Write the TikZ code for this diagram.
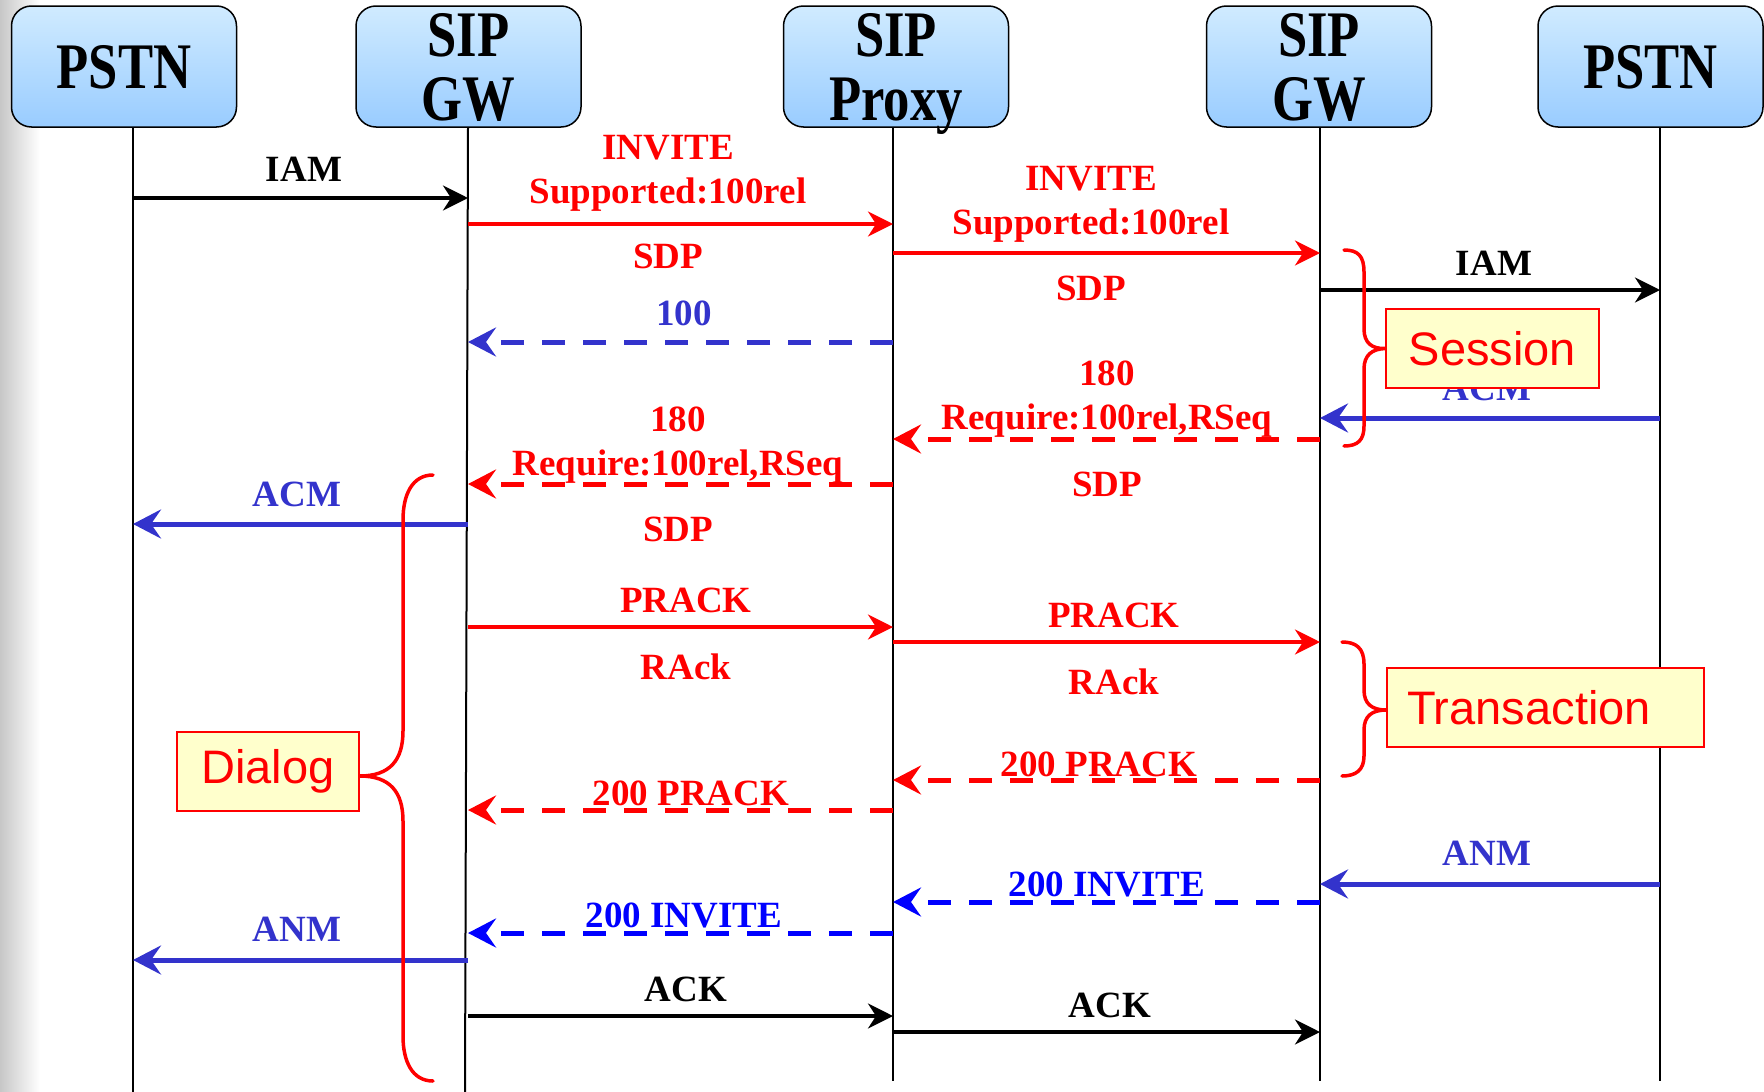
\documentclass[tikz,border=0pt]{standalone}
\usepackage{fontspec}
\setmainfont{Liberation Serif}
\newfontfamily\hdrfont{Liberation Serif}[FakeStretch=0.81]
\newfontfamily\sansf{Liberation Sans}
\usetikzlibrary{arrows.meta}
\definecolor{hdrtop}{RGB}{208,235,255}
\definecolor{hdrbot}{RGB}{153,204,255}
\definecolor{mblue}{RGB}{51,51,204}
\definecolor{pblue}{RGB}{0,0,255}
\definecolor{notefill}{RGB}{255,255,204}
\begin{document}
\begin{tikzpicture}[x=1pt,y=-1pt,
  hdr/.style={draw=black, line width=1.5pt, rounded corners=20pt, top color=hdrtop, bottom color=hdrbot,
    minimum width=225pt, minimum height=121pt, inner sep=0pt, align=center, text depth=0pt,
    font=\hdrfont\bfseries\fontsize{65}{64}\selectfont},
  lifeline/.style={line width=2pt, black},
  sol/.style={line width=3.5pt, -{Stealth[length=25pt,width=25pt,inset=8pt]}},
  thk/.style={line width=5pt, -{Stealth[length=28pt,width=29pt,inset=10pt]}},
  dsh/.style={thk, dash pattern=on 23pt off 18pt},
  lbl/.style={font=\bfseries\fontsize{37}{44}\selectfont, align=center, inner sep=0pt},
  note/.style={draw=red, line width=1.5pt, fill=notefill, text=red,
    font=\sansf\fontsize{47}{50}\selectfont, minimum height=79pt, inner sep=0pt},
  brace/.style={draw=red, line width=3.5pt, line cap=round}
]
\useasboundingbox (0,0) rectangle (1764,1092);
\shade[left color=black!22, right color=white] (0,0) rectangle (40,1092);

% lifelines
\coordinate (L1) at (133,127);  \coordinate (B1) at (133,1092);
\coordinate (L2) at (468,127);  \coordinate (B2) at (465,1092);
\coordinate (L3) at (893,127);  \coordinate (B3) at (893,1081);
\coordinate (L4) at (1320,127); \coordinate (B4) at (1320,1081);
\coordinate (L5) at (1660,127); \coordinate (B5) at (1660,1081);
\foreach \i in {1,...,5} \draw[lifeline] (L\i) -- (B\i);

% headers
\node[hdr] (p1) at (124,66.5) {PSTN};
\node[hdr] (g1) at (468.5,66.5) {SIP\\GW};
\node[hdr] (px) at (896,66.5) {SIP\\Proxy};
\node[hdr] (g2) at (1319,66.5) {SIP\\GW};
\node[hdr] (p2) at (1650.5,66.5) {PSTN};

% messages
\draw[sol,black] (L1 |- 0,198) -- (L2 |- 0,198);
\node[lbl] (t1) at (304,169) {IAM};

\draw[sol,red] (L2 |- 0,224) -- (L3 |- 0,224);
\node[lbl,red] (t2) at (668,173) {INVITE\\Supported:100rel};
\node[lbl,red] (t2b) at (668,256) {SDP};

\draw[sol,red] (L3 |- 0,253) -- (L4 |- 0,253);
\node[lbl,red] (t3) at (1091,204) {INVITE\\Supported:100rel};
\node[lbl,red] (t3b) at (1091,288) {SDP};

\draw[sol,black] (L4 |- 0,290) -- (L5 |- 0,290);
\node[lbl] (t4) at (1494,263) {IAM};

\draw[dsh,mblue] (L3 |- 0,342) -- (L2 |- 0,342);
\node[lbl,mblue] (t5) at (684,313) {100};

\draw[thk,mblue] (L5 |- 0,418) -- (L4 |- 0,418);
\node[lbl,mblue] (t6) at (1487,388) {ACM};

\draw[dsh,red] (L4 |- 0,439) -- (L3 |- 0,439);
\node[lbl,red] (t7) at (1107,399) {180\\Require:100rel,RSeq};
\node[lbl,red] (t7b) at (1107,484) {SDP};

\draw[dsh,red] (L3 |- 0,484) -- (L2 |- 0,484);
\node[lbl,red] (t8) at (678,445) {180\\Require:100rel,RSeq};
\node[lbl,red] (t8b) at (678,529) {SDP};

\draw[thk,mblue] (L2 |- 0,524) -- (L1 |- 0,524);
\node[lbl,mblue] (t9) at (297,494) {ACM};

\draw[sol,red] (L2 |- 0,627) -- (L3 |- 0,627);
\node[lbl,red] (t10) at (686,600) {PRACK};
\node[lbl,red] (t10b) at (686,667) {RAck};

\draw[sol,red] (L3 |- 0,642) -- (L4 |- 0,642);
\node[lbl,red] (t11) at (1114,615) {PRACK};
\node[lbl,red] (t11b) at (1114,682) {RAck};

\draw[dsh,red] (L4 |- 0,780) -- (L3 |- 0,780);
\node[lbl,red] (t12) at (1099,764) {200 PRACK};

\draw[dsh,red] (L3 |- 0,810) -- (L2 |- 0,810);
\node[lbl,red] (t13) at (691,793) {200 PRACK};

\draw[thk,mblue] (L5 |- 0,884) -- (L4 |- 0,884);
\node[lbl,mblue] (t14) at (1487,853) {ANM};

\draw[dsh,pblue] (L4 |- 0,902) -- (L3 |- 0,902);
\node[lbl,pblue] (t15) at (1107,884) {200 INVITE};

\draw[dsh,pblue] (L3 |- 0,933) -- (L2 |- 0,933);
\node[lbl,pblue] (t16) at (684,915) {200 INVITE};

\draw[thk,mblue] (L2 |- 0,960) -- (L1 |- 0,960);
\node[lbl,mblue] (t17) at (297,929) {ANM};

\draw[sol,black] (L2 |- 0,1016) -- (L3 |- 0,1016);
\node[lbl] (t18) at (686,989) {ACK};

\draw[sol,black] (L3 |- 0,1032) -- (L4 |- 0,1032);
\node[lbl] (t19) at (1110,1005) {ACK};

% notes
\node[note, minimum width=213pt] (ses) at (1492.5,348.5) {Session};
\node[note, minimum width=317pt, text width=277pt, align=left, inner xsep=20pt] (tra) at (1545.5,707.5) {Transaction};
\node[note, minimum width=182pt] (dia) at (268,771.5) {Dialog};

% braces
\draw[brace] (1344,250) .. controls (1358,250) and (1364,256) .. (1364,272) -- (1364,329)
  .. controls (1364,343) and (1372,349) .. (ses.west)
  .. controls (1372,349) and (1364,355) .. (1364,369) -- (1364,426)
  .. controls (1364,440) and (1358,446) .. (1344,446);
\draw[brace] (1342,642) .. controls (1356,642) and (1364,648) .. (1364,664) -- (1364,690)
  .. controls (1364,704) and (1372,710) .. (tra.west |- 0,710)
  .. controls (1372,710) and (1364,716) .. (1364,730) -- (1364,756)
  .. controls (1364,770) and (1356,776) .. (1342,776);
\draw[brace] (433,475) .. controls (412,475) and (403,495) .. (403,520) -- (403,731)
  .. controls (403,760) and (390,776) .. (dia.east |- 0,776)
  .. controls (390,776) and (403,792) .. (403,821) -- (403,1036)
  .. controls (403,1061) and (412,1081) .. (433,1081);
\end{tikzpicture}
\end{document}
